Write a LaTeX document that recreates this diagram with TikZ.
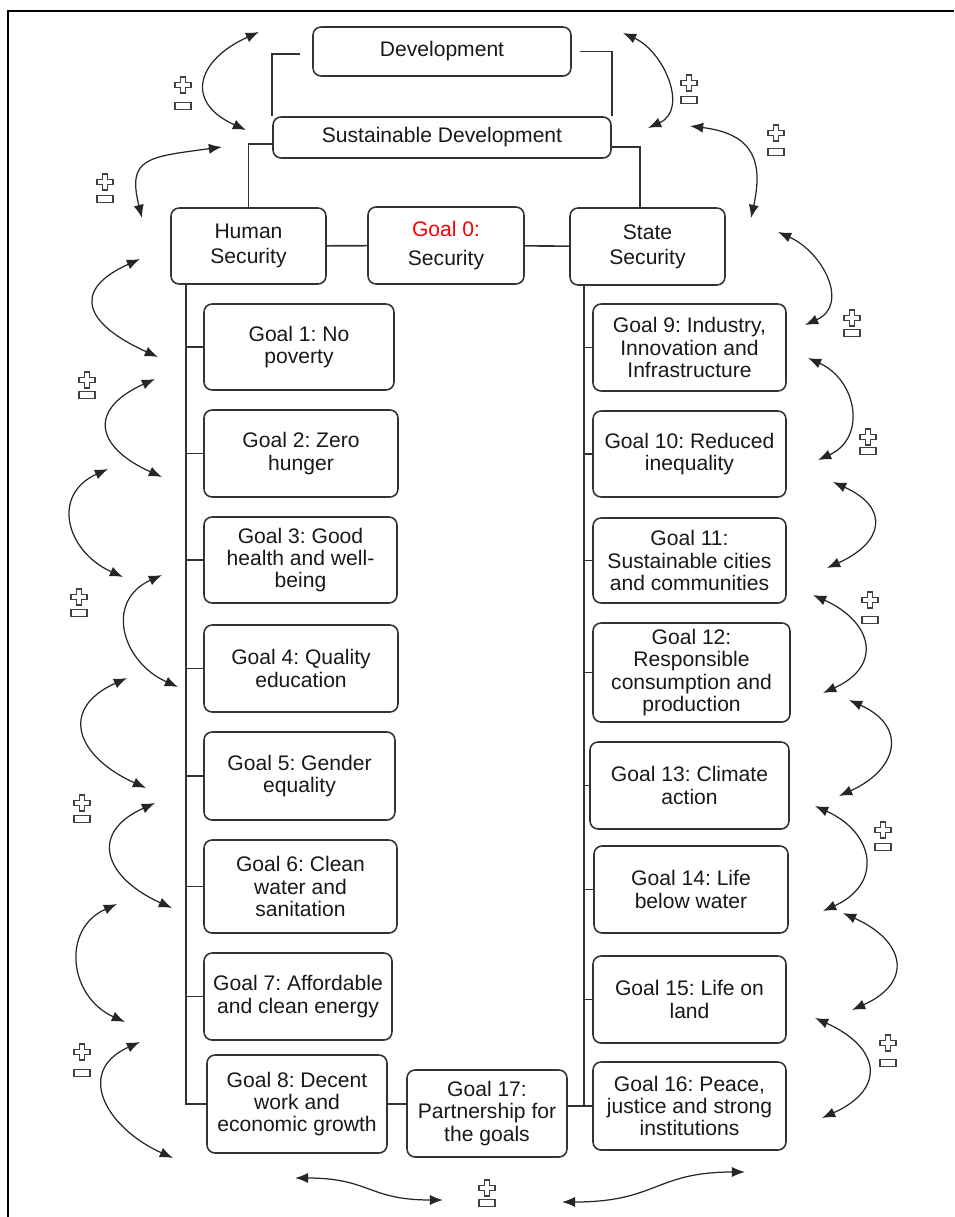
\documentclass[tikz,border=0pt]{standalone}
\usepackage{fontspec}
\setmainfont{Liberation Sans}
\usetikzlibrary{arrows.meta}
\frenchspacing

\begin{document}
\begin{tikzpicture}[
        x=0.02cm, y=-0.02cm,
        goalbox/.style={draw=black!80, line width=0.9pt, rounded corners=0.16cm,
          align=center, inner sep=1pt, text=black!90,
          font=\fontsize{12}{12.6}\selectfont},
        link/.style={draw=black!80, line width=0.9pt},
        dblarr/.style={{Latex[length=7.5pt,width=5.8pt]}-{Latex[length=7.5pt,width=5.8pt]},
          line width=0.7pt, black!85},
        pmline/.style={draw=black!75, line width=0.6pt}
      ]
        \useasboundingbox (0,0) rectangle (954,1217);
        % 外框
        \draw[line width=1.1pt] (954,11) -- (8,11) -- (8,1217);
        % 上部三层
        \node[goalbox, minimum width=5.16cm, minimum height=0.98cm] (dev) at (442,51.5) {Development};
        \node[goalbox, minimum width=6.76cm, minimum height=0.82cm] (sd) at (442,137.5) {Sustainable Development};
        \node[goalbox, minimum width=3.1cm, minimum height=1.52cm] (hs) at (248.5,246) {Human\\[1.6pt]Security};
        \node[goalbox, minimum width=3.12cm, minimum height=1.54cm] (g0) at (446,245.5) {\textcolor{red}{Goal 0:}\\[3.9pt]Security};
        \node[goalbox, minimum width=3.1cm, minimum height=1.54cm] (ss) at (647.5,246.5) {State\\[1.6pt]Security};
        % 左列目标
        \node[goalbox, minimum width=3.8cm, minimum height=1.72cm] (g1) at (299,347) {Goal 1: No\\poverty};
        \node[goalbox, minimum width=3.88cm, minimum height=1.74cm] (g2) at (301,453.5) {Goal 2: Zero\\hunger};
        \node[goalbox, minimum width=3.86cm, minimum height=1.72cm] (g3) at (300.5,560) {Goal 3: Good\\health and well-\\being};
        \node[goalbox, minimum width=3.88cm, minimum height=1.74cm] (g4) at (301,668.5) {Goal 4: Quality\\education};
        \node[goalbox, minimum width=3.82cm, minimum height=1.76cm] (g5) at (299.5,776) {Goal 5: Gender\\equality};
        \node[goalbox, minimum width=3.86cm, minimum height=1.86cm] (g6) at (300.5,886.5) {Goal 6: Clean\\water and\\sanitation};
        \node[goalbox, minimum width=3.76cm, minimum height=1.74cm] (g7) at (298,996.5) {Goal 7: Affordable\\and clean energy};
        \node[goalbox, minimum width=3.6cm, minimum height=1.96cm] (g8) at (297,1104) {Goal 8: Decent\\work and\\economic growth};
        % 右列目标
        \node[goalbox, minimum width=3.86cm, minimum height=1.74cm] (g9) at (689.5,347.5) {Goal 9: Industry,\\Innovation and\\Infrastructure};
        \node[goalbox, minimum width=3.86cm, minimum height=1.72cm] (g10) at (689.5,454) {Goal 10: Reduced\\inequality};
        \node[goalbox, minimum width=3.86cm, minimum height=1.7cm] (g11) at (689.5,560.5) {Goal 11:\\Sustainable cities\\and communities};
        \node[goalbox, minimum width=3.94cm, minimum height=1.98cm] (g12) at (691.5,672.5) {Goal 12:\\Responsible\\consumption and\\production};
        \node[goalbox, minimum width=3.98cm, minimum height=1.74cm] (g13) at (689.5,785.5) {Goal 13: Climate\\action};
        \node[goalbox, minimum width=3.88cm, minimum height=1.74cm] (g14) at (691,889.5) {Goal 14: Life\\below water};
        \node[goalbox, minimum width=3.86cm, minimum height=1.74cm] (g15) at (689.5,999.5) {Goal 15: Life on\\land};
        \node[goalbox, minimum width=3.86cm, minimum height=1.76cm] (g16) at (689.5,1106) {Goal 16: Peace,\\justice and strong\\institutions};
        \node[goalbox, minimum width=3.2cm, minimum height=1.74cm] (g17) at (487,1113.5) {Goal 17:\\Partnership for\\the goals};
        % 连线
        \draw[link, shorten <=0.24cm] ([yshift=-0.05cm]dev.west) -| (sd.north west);
        \draw[link, shorten <=0.16cm] (dev.east) -| (sd.north east);
        \draw[link] ([yshift=-0.13cm]sd.west) -| (hs.north);
        \draw[link] ([yshift=-0.19cm]sd.east) -| ([xshift=-0.15cm]ss.north);
        \draw[link] (hs) -- (g0);
        \draw[link] (g0) -- (ss);
        \coordinate (htrunk) at ([xshift=0.32cm]hs.south west);
        \coordinate (strunk) at ([xshift=0.3cm]ss.south west);
        \draw[link] (htrunk) |- (g8.west);
        \draw[link] (strunk) |- (g16.west);
        \foreach \g in {1,...,7} \draw[link] (htrunk |- g\g.west) -- (g\g.west);
        \foreach \g in {9,...,15} \draw[link] (strunk |- g\g.west) -- (g\g.west);
        \draw[link] (g8.east) -- (g17.west |- g8.east);
        \draw[link] (g17.east |- g16.west) -- (g16.west);
        % 左侧双向弧线
        \foreach \n/\tx/\ty/\bx/\by/\k in {1/259/32/246/130/62, 3/140/259/158/357/71,
            4/155/379/162/477/67, 5/108/469/123/577/57, 6/162/575/178/687/57,
            7/127/678/146/788/69, 8/155/803/172/908/67, 9/117/904/125/1022/56,
            10/140/1042/173/1158/66}{
          \coordinate (lt\n) at (\tx,\ty);
          \coordinate (lb\n) at (\bx,\by);
          \draw[dblarr] (lt\n) .. controls +(-\k,0.45*\k) and +(-\k,-0.45*\k) .. (lb\n);
        }
        \coordinate (lt2) at (222,147);
        \coordinate (lb2) at (142,218);
        \draw[dblarr] (lt2) .. controls +(-75,10) and +(-15,-60) .. (lb2);
        % 右侧双向弧线
        \foreach \n/\tx/\ty/\bx/\by/\k in {1/623/33/648/128/41, 3/778/232/805/325/45,
            4/808/358/818/460/49, 5/833/482/827/568/57, 6/813/595/823/693/60,
            7/849/700/839/796/59, 8/815/806/823/911/60, 9/843/913/852/1010/62,
            10/815/1018/822/1118/65}{
          \coordinate (rt\n) at (\tx,\ty);
          \coordinate (rb\n) at (\bx,\by);
          \draw[dblarr] (rt\n) .. controls +(\k,0.45*\k) and +(\k,-0.45*\k) .. (rb\n);
        }
        \coordinate (rt2) at (690,126);
        \coordinate (rb2) at (751,218);
        \draw[dblarr] (rt2) .. controls +(65,8) and +(12,-55) .. (rb2);
        % 底部双向曲线
        \coordinate (bl1) at (295,1178);
        \coordinate (bl2) at (443,1200);
        \draw[dblarr] (bl1) .. controls +(75,0) and +(-75,0) .. (bl2);
        \coordinate (br1) at (562,1202);
        \coordinate (br2) at (745,1172);
        \draw[dblarr] (br1) .. controls +(95,0) and +(-90,0) .. (br2);
        % 正负号
        \foreach \x/\y/\m in {183/85/106, 689/83/100, 776/133/152, 105/182/199,
            852/318/333, 87/380/395, 868/437/451, 79/597/613, 870/600/620,
            82/803/819, 883/830/847, 82/1052/1073, 888/1043/1063, 487/1188/1203}{
          \draw[pmline] (\x-2.5,\y-8) -- ++(5,0) -- ++(0,5.5) -- ++(5.5,0) -- ++(0,5)
            -- ++(-5.5,0) -- ++(0,5.5) -- ++(-5,0) -- ++(0,-5.5) -- ++(-5.5,0)
            -- ++(0,-5) -- ++(5.5,0) -- cycle;
          \draw[pmline] (\x-8,\m-3.5) rectangle (\x+8,\m+3.5);
        }
      \end{tikzpicture}
\end{document}
